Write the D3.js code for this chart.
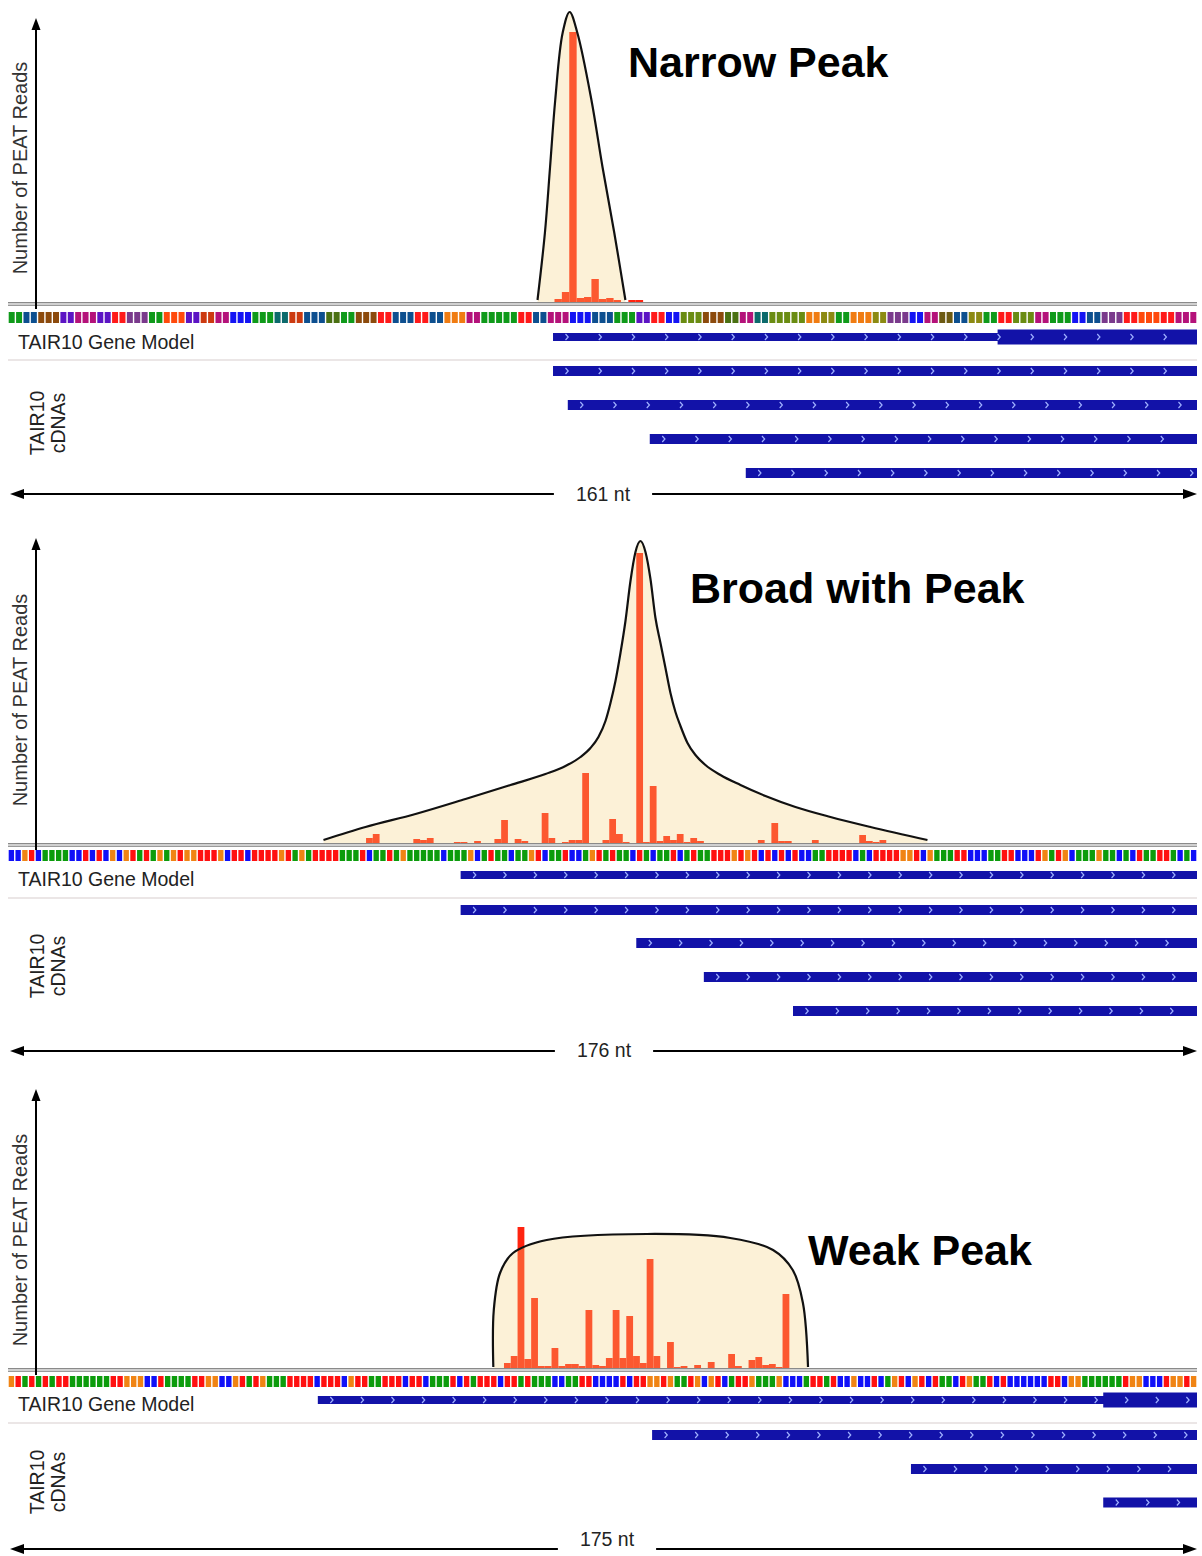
<!DOCTYPE html>
<html><head><meta charset="utf-8">
<script src="https://cdn.jsdelivr.net/npm/d3@7"></script>
<style>
body{margin:0;background:#fff}
svg{display:block}
text{font-family:"Liberation Sans",Arial,Helvetica,sans-serif}
</style>
</head><body><script>
// ---------------- DATA ----------------
const titles = ["Narrow Peak", "Broad with Peak", "Weak Peak"];
const spanLabels = ["161 nt", "176 nt", "175 nt"];
const spanLengths = [161, 176, 175];
const yLabel = "Number of PEAT Reads";
const geneLabel = "TAIR10 Gene Model";
const cdnaLabel = ["TAIR10", "cDNAs"];

// sequence strips (panel 1: amino-acid colouring; panels 2,3: nucleotides)
const seq1 = "ggbbnnnppmmmpprrvvvggoooppkkmmBBBgggttkkbbbllggnnnrrbbbrrbbyyymmgggggrrbbmmmBBB" +
             "bbbgggpprrBBLLLnnnllmmttLLLLLyyYYggyyyYYvvvBBmmwwbbYYggrrLLLmmgggBBbbvvvrrooorrmmm";
const seq2 = "CCGTCAAAACCTCTCGCGTATAGAGTGGTTTGCTTCTTTTGTAGATTTTAAATCAATAGAAAAACAAAGCATAACAAGTCAATCCAGT" +
             "ATAACTACAATCATAATTTGTGTCTCTCTCCAATTTTCACTTTTGGTCGAAATTCCCAATTCCCTGATGCAAAGAACACTAATTACAC";
const seq3 = "GTATATATTAAAAAATTGGGCCTAAAATTGGCCGTATGAAATTTTCTTTCGTTAATTTCTTCAAATCTATTTCTTATAAACCAATTC" +
             "CCCTCTTGGTGAATGCGTCATTGAAAGCCCATTATCCGCCTCAGTCGTCTAACTGAATCTCCCCCCTTCGGAAAAAATGGCCCTGGTG";

// PEAT read bars: nucleotide position and read height (arbitrary units)
const bars1Pos = [74, 75, 76, 77, 78, 79, 80, 81, 82, 84, 85];
const bars1Val = [3, 10, 270, 4, 5, 23, 3, 4, 2, 2, 2];
const bars2Pos = [53, 54, 60, 61, 62, 66, 67, 69, 72, 73, 75, 76, 79, 80, 82, 83, 84, 85, 88, 89, 90, 91,
                  93, 94, 95, 96, 97, 98, 99, 100, 101, 102, 111, 113, 114, 115, 119, 126, 127, 128, 129];
const bars2Val = [5, 9, 4, 3, 5, 1, 1, 2, 4, 23, 4, 2, 30, 5, 1, 3, 3, 70, 3, 24, 9, 1,
                  290, 1, 57, 2, 7, 3, 9, 1, 5, 2, 3, 20, 2, 2, 3, 8, 2, 1, 3];
const bars3Pos = [73, 74, 75, 76, 77, 78, 79, 80, 81, 82, 83, 84, 85, 86, 87, 88, 89, 90, 91, 92, 93, 94, 95,
                  97, 98, 99, 101, 103, 106, 107, 109, 110, 111, 112, 113, 114];
const bars3Val = [5, 12, 141, 9, 70, 2, 2, 20, 2, 4, 4, 2, 58, 3, 2, 10, 58, 10, 52, 12, 5, 109, 12,
                  26, 1, 2, 3, 6, 14, 2, 8, 11, 3, 4, 1, 74];

// peak envelopes (position, height)
const env1Pos = [71.7, 72.7, 73.4, 74.1, 75.1, 76.05, 77.1, 79.0, 80.5, 82.1, 83.6];
const env1Val = [2, 69, 135, 202, 269, 290, 269, 202, 135, 69, 2];
const env2Pos = [46.70, 52.92, 60.32, 67.72, 74.38, 79.56, 82.52, 84.74, 86.22, 87.40, 88.44, 89.18, 89.92,
                 90.66, 91.40, 92.14, 92.88, 93.62, 94.36, 95.10, 95.84, 96.58, 97.32, 98.06, 98.80, 99.54,
                 100.58, 101.76, 103.24, 105.46, 108.42, 112.12, 116.56, 121.74, 127.66, 136.10];
const env2Val = [3, 16, 29, 44, 58, 69, 77, 86, 95, 106, 122, 140, 162,
                 190, 222, 262, 291, 302, 291, 264, 225, 200, 175, 150, 131, 117,
                 100, 88, 78, 68, 58, 47, 36, 26, 16, 3];
const env3Pos = [71.43, 71.5, 72.42, 74.33, 79.29, 94.0, 106.3, 112.6, 115.5, 117.0, 117.75];
const env3Val = [1, 58, 95, 115, 128, 134, 130, 118, 98, 65, 1];

// gene models: [start, end, thick-start] in nt ; cDNA starts (all end at span end)
const gene1 = [73.8, 161, 134];
const gene2 = [67, 176, null];
const gene3 = [45.6, 175, 161.2];
const cdna1 = [73.8, 75.8, 86.9, 99.9];
const cdna2 = [67, 93, 103, 116.2];
const cdna3 = [94.8, 132.9, 161.2];

// colours
const aaColors = {g:"#0f9a1a", b:"#0d4f8f", n:"#8c4a0c", p:"#5c14c4", m:"#b4127a", r:"#ff1a1a", v:"#7a3a8c",
                  o:"#ff4a0c", k:"#cc3a10", t:"#0c6a6c", B:"#1414f4", l:"#4a7012", L:"#6a8c12", y:"#f07c12",
                  Y:"#8c8a12", w:"#6c5a12"};
const ntColors = {A:"#0c9c0c", C:"#1010f8", G:"#f08414", T:"#ff1010"};

// ---------------- LAYOUT ----------------
const W = 1202, H = 1556, X0 = 8, X1 = 1197;
const panels = [
  {seq: seq1, cmap: aaColors, n: spanLengths[0], bp: bars1Pos, bv: bars1Val, ep: env1Pos, ev: env1Val,
   gene: gene1, cdna: cdna1, title: titles[0], span: spanLabels[0], curve: d3.curveCatmullRom.alpha(0.5),
   L: {base: 302, axisTop: 18, strip: 312, stripH: 11, geneY: 337, geneText: 349, sep: 360,
       cdnaY: [371, 405, 439, 473], cdnaLab: 423, arrowY: 494, spanY: 501, spanX: 603, readLab: 168, titleX: 628, titleY: 77}},
  {seq: seq2, cmap: ntColors, n: spanLengths[1], bp: bars2Pos, bv: bars2Val, ep: env2Pos, ev: env2Val,
   gene: gene2, cdna: cdna2, title: titles[1], span: spanLabels[1], curve: d3.curveMonotoneX,
   L: {base: 843, axisTop: 538, strip: 850, stripH: 11, geneY: 875, geneText: 886, sep: 898,
       cdnaY: [910, 943, 977, 1011], cdnaLab: 966, arrowY: 1051, spanY: 1057, spanX: 604, readLab: 700, titleX: 690, titleY: 603}},
  {seq: seq3, cmap: ntColors, n: spanLengths[2], bp: bars3Pos, bv: bars3Val, ep: env3Pos, ev: env3Val,
   gene: gene3, cdna: cdna3, title: titles[2], span: spanLabels[2], curve: d3.curveCatmullRom.alpha(0.5),
   L: {base: 1368, axisTop: 1089, strip: 1376, stripH: 11, geneY: 1400, geneText: 1411, sep: 1423,
       cdnaY: [1435, 1469, 1502.5], cdnaLab: 1482, arrowY: 1549, spanY: 1546, spanX: 607, readLab: 1240, titleX: 808, titleY: 1265}}
];

const svg = d3.select("body").append("svg").attr("width", W).attr("height", H);

panels.forEach(P => {
  const L = P.L;
  const g = svg.append("g");
  const x = d3.scaleLinear().domain([0, P.n]).range([X0, X1]);
  const cw = x(1) - x(0);
  const y = d3.scaleLinear().domain([0, 300]).range([L.base, L.base - 300]);

  // bars
  g.append("g").selectAll("rect").data(P.bp.map((p, i) => ({p, v: P.bv[i]}))).join("rect")
    .attr("x", d => x(d.p)).attr("width", cw)
    .attr("y", d => y(d.v)).attr("height", d => L.base - y(d.v))
    .attr("fill", "rgb(255,36,16)");

  // envelope (semi-transparent cream over bars)
  const env = P.ep.map((p, i) => ({p, v: P.ev[i]}));
  g.append("path").datum(env)
    .attr("d", d3.area().x(d => x(d.p)).y0(L.base).y1(d => y(d.v)).curve(P.curve))
    .attr("fill", "#f5d27a").attr("fill-opacity", 0.3);
  g.append("path").datum(env)
    .attr("d", d3.line().x(d => x(d.p)).y(d => y(d.v)).curve(P.curve))
    .attr("fill", "none").attr("stroke", "#111").attr("stroke-width", 2.2);

  // baseline double rule
  g.append("rect").attr("x", X0).attr("width", X1 - X0).attr("y", L.base).attr("height", 4).attr("fill", "#d0d0d0");
  g.append("line").attr("x1", X0).attr("x2", X1).attr("y1", L.base + 0.5).attr("y2", L.base + 0.5).attr("stroke", "#8a8a8a").attr("stroke-width", 1);
  g.append("line").attr("x1", X0).attr("x2", X1).attr("y1", L.base + 3.5).attr("y2", L.base + 3.5).attr("stroke", "#9a9a9a").attr("stroke-width", 1);

  // sequence strip
  g.append("g").selectAll("rect").data(P.seq.split("")).join("rect")
    .attr("x", (d, i) => x(i) + 0.7).attr("width", cw - 1.4)
    .attr("y", L.strip).attr("height", L.stripH)
    .attr("fill", d => P.cmap[d]);

  // y axis arrow
  g.append("line").attr("x1", 36).attr("x2", 36).attr("y1", L.base + 7).attr("y2", L.axisTop + 8)
    .attr("stroke", "#000").attr("stroke-width", 2);
  g.append("path").attr("d", `M36,${L.axisTop} L31.5,${L.axisTop + 12} L40.5,${L.axisTop + 12} Z`).attr("fill", "#000");
  g.append("text").attr("transform", `translate(27,${L.readLab}) rotate(-90)`)
    .attr("text-anchor", "middle").attr("font-size", 20).attr("fill", "#333").text(yLabel);

  // title
  g.append("text").attr("x", L.titleX).attr("y", L.titleY).attr("font-size", 43).attr("font-weight", "bold")
    .attr("fill", "#000").text(P.title);

  // gene model label + separator
  g.append("text").attr("x", 18).attr("y", L.geneText).attr("font-size", 19.5).attr("fill", "#222").text(geneLabel);
  g.append("line").attr("x1", X0).attr("x2", X1).attr("y1", L.sep).attr("y2", L.sep).attr("stroke", "#e4dede").attr("stroke-width", 1.5);

  // transcript bars helper
  function transcript(start, end, cy, h) {
    g.append("rect").attr("x", x(start)).attr("width", x(end) - x(start)).attr("y", cy - h / 2).attr("height", h)
      .attr("fill", "#1212a8");
  }
  function chevrons(start, end, cy) {
    const xs = d3.range(x(start) + 14, x(end) - 4, cw * 4.5);
    g.append("g").selectAll("path").data(xs).join("path")
      .attr("d", d => `M${d - 1.5},${cy - 3} L${d + 1.2},${cy} L${d - 1.5},${cy + 3}`)
      .attr("fill", "none").attr("stroke", "#9fb0ff").attr("stroke-width", 1.2);
  }
  const [gs, ge, gt] = P.gene;
  transcript(gs, ge, L.geneY, 8);
  if (gt !== null) transcript(gt, ge, L.geneY, 15);
  chevrons(gs, ge, L.geneY);

  P.cdna.forEach((s, i) => {
    transcript(s, P.n, L.cdnaY[i], 10);
    chevrons(s, P.n, L.cdnaY[i]);
  });

  // cDNA label
  const cl = g.append("text").attr("transform", `translate(44,${L.cdnaLab}) rotate(-90)`)
    .attr("text-anchor", "middle").attr("font-size", 19.5).attr("fill", "#222");
  cl.append("tspan").attr("x", 0).attr("dy", 0).text(cdnaLabel[0]);
  cl.append("tspan").attr("x", 0).attr("dy", 21).text(cdnaLabel[1]);

  // span arrow with label
  const st = g.append("text").attr("x", L.spanX).attr("y", L.spanY).attr("text-anchor", "middle")
    .attr("font-size", 19.5).attr("fill", "#222").text(P.span);
  const tw = st.node().getComputedTextLength();
  const ay = L.arrowY;
  g.append("line").attr("x1", 20).attr("x2", L.spanX - tw / 2 - 22).attr("y1", ay).attr("y2", ay).attr("stroke", "#000").attr("stroke-width", 2);
  g.append("line").attr("x1", L.spanX + tw / 2 + 22).attr("x2", X1 - 10).attr("y1", ay).attr("y2", ay).attr("stroke", "#000").attr("stroke-width", 2);
  g.append("path").attr("d", `M${10},${ay} L${24},${ay - 5} L${24},${ay + 5} Z`).attr("fill", "#000");
  g.append("path").attr("d", `M${X1},${ay} L${X1 - 14},${ay - 5} L${X1 - 14},${ay + 5} Z`).attr("fill", "#000");
});
</script></body></html>
